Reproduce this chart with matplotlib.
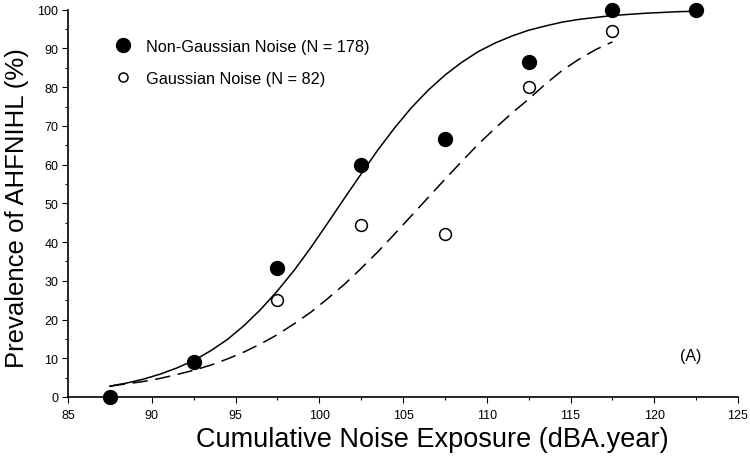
import matplotlib
matplotlib.use("Agg")
import matplotlib.pyplot as plt
from matplotlib.ticker import MultipleLocator
from matplotlib.lines import Line2D

plt.rcParams['font.family'] = ['Liberation Sans', 'DejaVu Sans']

# observed prevalence (%) by cumulative noise exposure (dBA.year)
x_non = [87.5, 92.5, 97.5, 102.5, 107.5, 112.5, 117.5, 122.5]
y_non = [0, 9.1, 33.3, 60.0, 66.7, 86.5, 100, 100]
x_gau = [97.5, 102.5, 107.5, 112.5, 117.5]
y_gau = [25.0, 44.4, 42.1, 80.0, 94.4]

# fitted curves
fit_non_x = [87.5, 88.5, 89.5, 90.5, 91.5, 92.5, 93.5, 94.5, 95.5, 96.5, 97.5,
             98.5, 99.5, 100.5, 101.5, 102.5, 103.5, 104.5, 105.5, 106.5, 107.5,
             108.5, 109.5, 110.5, 111.5, 112.5, 113.5, 114.5, 115.5, 116.5,
             117.5, 118.5, 119.5, 120.5, 121.5, 122.5]
fit_non_y = [2.8, 3.6, 4.6, 5.9, 7.5, 9.4, 11.9, 14.8, 18.4, 22.6, 27.4,
             32.7, 38.6, 44.9, 51.3, 57.6, 63.8, 69.5, 74.7, 79.2, 83.1,
             86.4, 89.2, 91.4, 93.2, 94.7, 95.8, 96.8, 97.5, 98.0,
             98.5, 98.8, 99.1, 99.3, 99.5, 99.6]
fit_gau_x = [87.5, 88.5, 89.5, 90.5, 91.5, 92.5, 93.5, 94.5, 95.5, 96.5, 97.5,
             98.5, 99.5, 100.5, 101.5, 102.5, 103.5, 104.5, 105.5, 106.5, 107.5,
             108.5, 109.5, 110.5, 111.5, 112.5, 113.5, 114.5, 115.5, 116.5, 117.5]
fit_gau_y = [2.8, 3.4, 4.0, 4.8, 5.8, 6.9, 8.2, 9.8, 11.6, 13.7, 16.1,
             18.9, 21.9, 25.4, 29.1, 33.2, 37.5, 42.1, 46.8, 51.5, 56.2,
             60.8, 65.3, 69.4, 73.3, 76.9, 80.8, 84.3, 87.2, 89.7, 91.7]

fig = plt.figure(figsize=(7.5, 4.6), dpi=100)
ax = fig.add_axes([0.0907, 0.1348, 0.8933, 0.8419])

ax.plot(fit_non_x, fit_non_y, color='black', lw=1.1, zorder=2)
ax.plot(fit_gau_x, fit_gau_y, color='black', lw=1.1, dashes=(10, 5), zorder=2)
ax.plot(x_gau, y_gau, 'o', ms=8.5, mfc='white', mec='black', mew=1.1,
        zorder=3, clip_on=False)
ax.plot(x_non, y_non, 'o', ms=10, mfc='black', mec='black',
        zorder=4, clip_on=False)

ax.set_xlim(85, 125)
ax.set_ylim(0, 100)
ax.xaxis.set_major_locator(MultipleLocator(5))
ax.xaxis.set_minor_locator(MultipleLocator(2.5))
ax.yaxis.set_major_locator(MultipleLocator(10))
ax.yaxis.set_minor_locator(MultipleLocator(5))
ax.tick_params(which='major', direction='out', length=4, width=0.8,
               labelsize=9, pad=3)
ax.tick_params(which='minor', direction='out', length=2.5, width=0.8)
ax.tick_params(axis='x', which='major', pad=5)

for s in ['top', 'right']:
    ax.spines[s].set_visible(False)
for s in ['left', 'bottom']:
    ax.spines[s].set_linewidth(1.2)

ax.set_xlabel('Cumulative Noise Exposure (dBA.year)', fontsize=19.5)
ax.xaxis.set_label_coords(0.543, -0.075)
ax.set_ylabel('Prevalence of AHFNIHL (%)', fontsize=18.5)
ax.yaxis.set_label_coords(-0.058, 0.49)

handles = [
    Line2D([], [], ls='none', marker='o', ms=10, mfc='black', mec='black'),
    Line2D([], [], ls='none', marker='o', ms=6.5, mfc='white', mec='black', mew=1.1),
]
ax.legend(handles, ['Non-Gaussian Noise (N = 178)', 'Gaussian Noise (N = 82)'],
          loc='upper left', bbox_to_anchor=(0.046, 0.962), frameon=False,
          fontsize=11.7, labelspacing=1.05, handletextpad=0.8, handlelength=1.2)

ax.text(0.930, 0.106, '(A)', transform=ax.transAxes, fontsize=11.5,
        ha='center', va='center')

fig.savefig('out.png', dpi=100)
